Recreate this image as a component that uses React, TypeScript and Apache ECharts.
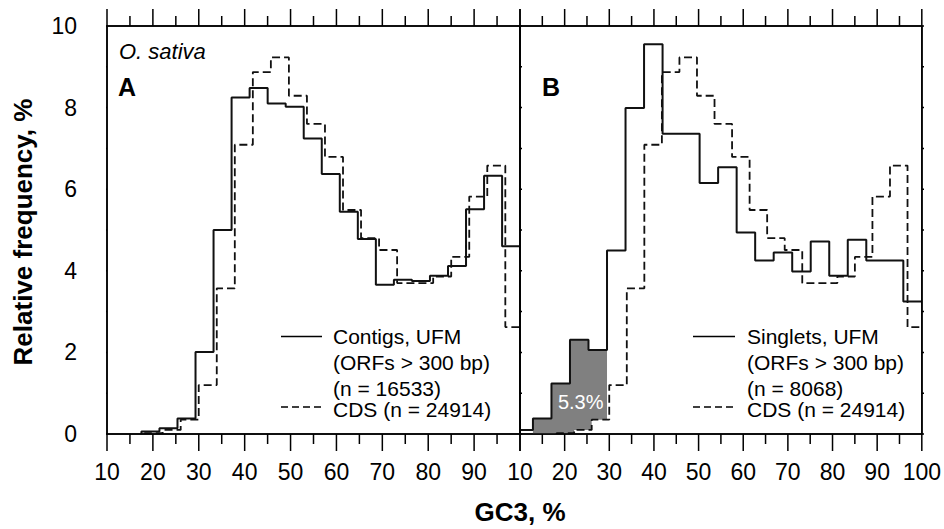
import React, { useEffect, useRef } from "react";
import * as echarts from "echarts";

// ---- Data ----
// Panel A: Contigs, UFM (ORFs > 300 bp), n = 16533 – relative frequency (%) per GC3 bin
const contigsBinStart = 17.5;
const contigsBinWidth = 3.93;
const contigsFreq = [0.06, 0.14, 0.38, 2.01, 5.0, 8.25, 8.48, 8.1, 8.02, 7.24, 6.37, 5.45, 4.78, 3.66, 3.78, 3.75, 3.88, 4.12, 5.51, 6.33, 4.6];

// CDS (n = 24914), drawn dashed in both panels
const cdsBinStart = 18.2;
const cdsBinWidth = 3.93;
const cdsFreq = [0.02, 0.1, 0.35, 1.2, 3.57, 7.09, 8.87, 9.23, 8.29, 7.6, 6.79, 5.49, 4.8, 4.51, 3.7, 3.7, 3.86, 4.34, 5.82, 6.58, 2.62];

// Panel B: Singlets, UFM (ORFs > 300 bp), n = 8068
const singletsBinStart = 8.75;
const singletsBinWidth = 4.148;
const singletsFreq = [0.1, 0.38, 1.24, 2.31, 2.06, 4.5, 7.99, 9.55, 7.36, 7.36, 6.15, 6.54, 4.94, 4.25, 4.45, 3.98, 4.72, 3.88, 4.76, 4.25, 4.25, 3.25];

// shaded singlet bins (excess over CDS at low GC3)
const shadedFirstBin = 1;
const shadedLastBin = 4;
const shadedLabel = "5.3%";
const shadedLabelPos = [23.6, 0.78];

// axes
const xMin = 10;
const xMax = 100;
const xStep = 10;
const yMin = 0;
const yMax = 10;
const yStep = 2;
const xTickValues = [10, 15, 20, 25, 30, 35, 40, 45, 50, 55, 60, 65, 70, 75, 80, 85, 90, 95, 100];
const xMajorTicks = [10, 20, 30, 40, 50, 60, 70, 80, 90, 100];
const yTickValues = [0, 1, 2, 3, 4, 5, 6, 7, 8, 9, 10];
const yMajorTicks = [0, 2, 4, 6, 8, 10];

const legendA = ["Contigs, UFM", "(ORFs > 300 bp)", "(n = 16533)", "CDS (n = 24914)"];
const legendB = ["Singlets, UFM", "(ORFs > 300 bp)", "(n = 8068)", "CDS (n = 24914)"];

const FONT = "'Liberation Sans', Arial, Helvetica, sans-serif";
const MAJOR = 17; // tick length, px
const MINOR = 10;
const GRID_TOP = 26;
const GRID_H = 408;
const GRID_A = { left: 107, width: 413 };
const GRID_B = { left: 520, width: 412 };

function stepPoints(start: number, width: number, values: number[], lo: number, hi: number) {
  const pts: number[][] = [];
  values.forEach((v, i) => {
    const a = Math.max(lo, start + i * width);
    const b = Math.min(hi, start + (i + 1) * width);
    if (b <= a + 1e-9) return;
    if (pts.length === 0 && a > lo + 1e-9) pts.push([a, 0]);
    pts.push([a, v], [b, v]);
  });
  return pts;
}

const axisCommon = (extra: any) => ({
  type: "value",
  min: xMin,
  max: xMax,
  interval: xStep,
  axisLine: { show: true, onZero: false, lineStyle: { color: "#000", width: 1.5 } },
  axisTick: { show: false },
  minorTick: { show: false },
  splitLine: { show: false },
  minorSplitLine: { show: false },
  axisLabel: { show: false },
  ...extra,
});

const yCommon = (extra: any) =>
  axisCommon({ min: yMin, max: yMax, interval: yStep, ...extra });

function txt(x: number, y: number, text: string, font: string, align = "left", extra: any = {}) {
  return {
    type: "text",
    x,
    y,
    silent: true,
    style: {
      text,
      font,
      fill: "#000",
      align,
      textAlign: align,
      verticalAlign: "middle",
      textVerticalAlign: "middle",
    },
    ...extra,
  };
}

function legend(lineX1: number, lineX2: number, textX: number, lines: string[]) {
  const ys = [336.5, 362, 388, 409];
  const els: any[] = [
    { type: "line", silent: true, shape: { x1: lineX1, y1: 336.5, x2: lineX2, y2: 336.5 }, style: { stroke: "#000", lineWidth: 1.5 } },
    { type: "line", silent: true, shape: { x1: lineX1, y1: 407, x2: lineX2, y2: 407 }, style: { stroke: "#000", lineWidth: 1.5, lineDash: [7, 4] } },
  ];
  lines.forEach((t, i) => els.push(txt(textX, ys[i], t, `21px ${FONT}`)));
  return els;
}

// Frame ticks as "comb" line series in data units, drawn outside the plot (clip off)
function tickCombs(axisIdx: number, gridWidthPx: number) {
  const pxPerX = gridWidthPx / (xMax - xMin);
  const pxPerY = GRID_H / (yMax - yMin);
  const bottom: number[][] = [];
  const top: number[][] = [];
  const left: number[][] = [];
  const right: number[][] = [];
  xTickValues.forEach((v) => {
    const l = (xMajorTicks.includes(v) ? MAJOR : MINOR) / pxPerY;
    bottom.push([v, yMin], [v, yMin - l], [v, yMin]);
    top.push([v, yMax], [v, yMax + l], [v, yMax]);
  });
  yTickValues.forEach((v) => {
    const l = (yMajorTicks.includes(v) ? MAJOR : MINOR) / pxPerX;
    left.push([xMin, v], [xMin - l, v], [xMin, v]);
    right.push([xMax, v], [xMax + l, v], [xMax, v]);
  });
  return [bottom, top, left, right].map((data) => ({
    type: "line",
    xAxisIndex: axisIdx,
    yAxisIndex: axisIdx,
    data,
    clip: false,
    symbol: "none",
    silent: true,
    z: 6,
    lineStyle: { color: "#000", width: 1.5 },
  }));
}

export default function App() {
  const ref = useRef<HTMLDivElement>(null);

  useEffect(() => {
    if (!ref.current) return;
    const chart = echarts.init(ref.current, undefined, { renderer: "svg" });

    const contigsPts = stepPoints(contigsBinStart, contigsBinWidth, contigsFreq, xMin, xMax);
    const cdsPts = stepPoints(cdsBinStart, cdsBinWidth, cdsFreq, xMin, xMax);
    const singletsPts = stepPoints(singletsBinStart, singletsBinWidth, singletsFreq, xMin, xMax);

    const lo = singletsBinStart + singletsBinWidth * shadedFirstBin;
    const hi = singletsBinStart + singletsBinWidth * (shadedLastBin + 1);
    const top = stepPoints(singletsBinStart, singletsBinWidth, singletsFreq, lo, hi);
    const bottom = [[lo, 0], ...stepPoints(cdsBinStart, cdsBinWidth, cdsFreq, lo, hi)];
    const shadePoly = [...top, ...bottom.slice().reverse()];

    const solidStyle = { color: "#111", width: 2 };
    const dashStyle = { color: "#111", width: 1.8, type: [8, 4] };
    const labelStyle = { show: true, fontSize: 23, color: "#000", fontFamily: FONT };

    const option: any = {
      animation: false,
      textStyle: { fontFamily: FONT },
      grid: [
        { left: GRID_A.left, top: GRID_TOP, width: GRID_A.width, height: GRID_H },
        { left: GRID_B.left, top: GRID_TOP, width: GRID_B.width, height: GRID_H },
      ],
      xAxis: [
        axisCommon({
          gridIndex: 0,
          position: "bottom",
          axisLabel: { ...labelStyle, margin: 26, formatter: (v: number) => (v === xMax ? "" : String(v)) },
        }),
        axisCommon({ gridIndex: 0, position: "top" }),
        axisCommon({ gridIndex: 1, position: "bottom", axisLabel: { ...labelStyle, margin: 26 } }),
        axisCommon({ gridIndex: 1, position: "top" }),
      ],
      yAxis: [
        yCommon({ gridIndex: 0, position: "left", axisLabel: { ...labelStyle, margin: 30 } }),
        yCommon({ gridIndex: 0, position: "right" }),
        yCommon({ gridIndex: 1, position: "left" }),
        yCommon({ gridIndex: 1, position: "right" }),
      ],
      series: [
        ...tickCombs(0, GRID_A.width),
        ...tickCombs(2, GRID_B.width),
        {
          type: "custom",
          xAxisIndex: 2,
          yAxisIndex: 2,
          z: 1,
          silent: true,
          data: [[lo, 0]],
          renderItem: (_p: any, api: any) => {
            const pts = shadePoly.map((p) => api.coord(p));
            const lp = api.coord(shadedLabelPos);
            return {
              type: "group",
              children: [
                { type: "polygon", shape: { points: pts }, style: { fill: "#808080", stroke: "none" } },
                {
                  type: "text",
                  x: lp[0],
                  y: lp[1],
                  style: {
                    text: shadedLabel,
                    fill: "#fff",
                    font: `20px ${FONT}`,
                    align: "center",
                    textAlign: "center",
                    verticalAlign: "middle",
                    textVerticalAlign: "middle",
                  },
                },
              ],
            };
          },
        },
        { type: "line", xAxisIndex: 0, yAxisIndex: 0, data: cdsPts, symbol: "none", silent: true, z: 3, lineStyle: dashStyle },
        { type: "line", xAxisIndex: 0, yAxisIndex: 0, data: contigsPts, symbol: "none", silent: true, z: 4, lineStyle: solidStyle },
        { type: "line", xAxisIndex: 2, yAxisIndex: 2, data: cdsPts, symbol: "none", silent: true, z: 3, lineStyle: dashStyle },
        { type: "line", xAxisIndex: 2, yAxisIndex: 2, data: singletsPts, symbol: "none", silent: true, z: 4, lineStyle: solidStyle },
      ],
      graphic: [
        txt(119, 51, "O. sativa", `italic 22px ${FONT}`),
        txt(118, 87, "A", `bold 25px ${FONT}`),
        txt(542, 87, "B", `bold 25px ${FONT}`),
        ...legend(281, 322, 333, legendA),
        ...legend(693, 735, 747, legendB),
        txt(520, 512, "GC3, %", `bold 26px ${FONT}`, "center"),
        txt(23, 232, "Relative frequency, %", `bold 26px ${FONT}`, "center", { rotation: Math.PI / 2 }),
      ],
    };

    chart.setOption(option);
    return () => chart.dispose();
  }, []);

  return (
    <div
      ref={ref}
      style={{ position: "fixed", left: 0, top: 0, width: 944, height: 529, background: "#fff" }}
    />
  );
}
